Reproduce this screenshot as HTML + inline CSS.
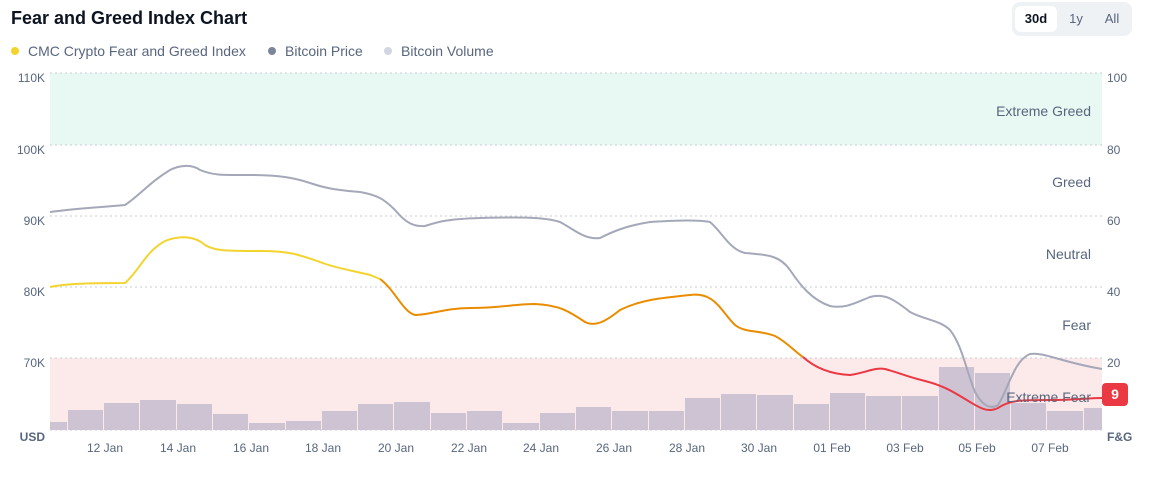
<!DOCTYPE html>
<html><head><meta charset="utf-8"><style>
body{margin:0;background:#fff;font-family:"Liberation Sans",sans-serif;}
.wrap{position:relative;width:1157px;height:477px;overflow:hidden}
.title{position:absolute;left:11px;top:8px;font-size:18px;font-weight:bold;color:#0d1421}
.leg{position:absolute;top:43px;font-size:14px;color:#58667e}
.dot{display:inline-block;width:8px;height:8px;border-radius:50%;margin-right:9px;vertical-align:1px}
.btns{position:absolute;left:1012px;top:2px;width:120px;height:34px;background:#eff2f5;border-radius:8px}
.btns span{position:absolute;top:4px;height:26px;line-height:26px;font-size:13px;color:#58667e;text-align:center}
</style></head><body><div class="wrap">
<div class="title">Fear and Greed Index Chart</div>
<div class="leg" style="left:11px"><span class="dot" style="background:#f3d42f"></span>CMC Crypto Fear and Greed Index</div>
<div class="leg" style="left:268px"><span class="dot" style="background:#7c869a"></span>Bitcoin Price</div>
<div class="leg" style="left:384px"><span class="dot" style="background:#d1d6e0"></span>Bitcoin Volume</div>
<div class="btns"><span style="left:3px;width:42px;background:#fff;border-radius:6px;color:#0d1421;font-weight:bold">30d</span><span style="left:53px;width:22px">1y</span><span style="left:86px;width:28px">All</span></div>
<svg width="1157" height="477" style="position:absolute;left:0;top:0" font-family="Liberation Sans,sans-serif">
<rect x="50" y="73" width="1052" height="72" fill="#e8f8f2"/>
<rect x="50" y="358" width="1052" height="72" fill="#fce9e9"/>
<g stroke="#c8ccd4" stroke-dasharray="2,3" stroke-width="1">
<line x1="50" y1="73" x2="1102" y2="73"/><line x1="50" y1="145" x2="1102" y2="145"/><line x1="50" y1="216" x2="1102" y2="216"/><line x1="50" y1="287" x2="1102" y2="287"/><line x1="50" y1="358" x2="1102" y2="358"/><line x1="50" y1="430" x2="1102" y2="430"/></g>
<g fill="#cdc3d3">
<rect x="50" y="422" width="17" height="8"/><rect x="68" y="410" width="35" height="20"/><rect x="104" y="403" width="35" height="27"/><rect x="140" y="400" width="36" height="30"/><rect x="177" y="404" width="35" height="26"/><rect x="213" y="414" width="35" height="16"/><rect x="249" y="423" width="36" height="7"/><rect x="286" y="421" width="35" height="9"/><rect x="322" y="411" width="35" height="19"/><rect x="358" y="404" width="35" height="26"/><rect x="394" y="402" width="36" height="28"/><rect x="431" y="413" width="35" height="17"/><rect x="467" y="411" width="35" height="19"/><rect x="503" y="423" width="36" height="7"/><rect x="540" y="413" width="35" height="17"/><rect x="576" y="407" width="35" height="23"/><rect x="612" y="411" width="36" height="19"/><rect x="649" y="411" width="35" height="19"/><rect x="685" y="398" width="35" height="32"/><rect x="721" y="394" width="35" height="36"/><rect x="757" y="395" width="36" height="35"/><rect x="794" y="404" width="35" height="26"/><rect x="830" y="393" width="35" height="37"/><rect x="866" y="396" width="35" height="34"/><rect x="902" y="396" width="36" height="34"/><rect x="939" y="367" width="35" height="63"/><rect x="975" y="373" width="35" height="57"/><rect x="1011" y="403" width="35" height="27"/><rect x="1047" y="411" width="36" height="19"/><rect x="1084" y="408" width="18" height="22"/></g>
<path d="M50,212 C70,209 90,208 125,205 C140,195 150,182 170,170 C180,165 192,164 200,170 C215,176 225,175 250,175 C280,175 295,178 310,183 C325,188 335,190 360,192 C378,195 385,200 395,210 C405,222 413,227 425,226 C440,221 450,219 480,218 C520,217 545,217 560,222 C575,230 585,240 600,238 C612,232 625,226 650,222 C680,220 700,220 710,222 C722,232 730,250 745,253 C770,255 780,256 790,270 C800,285 812,300 830,306 C845,309 855,303 870,297 C885,293 895,300 910,312 C925,320 940,320 950,330 C962,345 966,370 975,392 C982,405 990,410 998,405 C1008,390 1014,360 1030,354 C1045,352 1060,362 1102,369" fill="none" stroke="#a4a8b9" stroke-width="2"/>
<path d="M50,287 C70,283 100,283 125,283 C140,270 145,252 165,241 C180,235 195,236 205,245 C215,251 225,251 260,251 C290,251 300,255 320,262 C335,268 350,270 370,275 L380,279" fill="none" stroke="#f3d42f" stroke-width="2"/>
<path d="M380,279 C395,290 403,312 415,315 C430,315 445,308 470,308 C500,308 515,304 535,304 C560,305 570,312 585,322 C595,327 605,322 620,310 C640,300 660,298 690,295 C715,292 720,310 735,325 C745,333 760,330 775,336 C787,342 795,352 803,357" fill="none" stroke="#ea8c00" stroke-width="2"/>
<path d="M803,357 C815,368 830,374 850,375 C865,373 875,367 885,369 C900,373 905,376 925,381 C945,386 955,393 970,402 C980,408 988,413 998,408 C1010,400 1020,400 1050,400 C1075,400 1090,398 1102,398" fill="none" stroke="#ea3943" stroke-width="2"/>
<g font-size="12" fill="#58667e" text-anchor="end"><text x="45" y="82">110K</text><text x="45" y="154">100K</text><text x="45" y="225">90K</text><text x="45" y="296">80K</text><text x="45" y="367">70K</text><text x="45" y="441" font-weight="bold">USD</text></g>
<g font-size="12" fill="#58667e"><text x="1107" y="82">100</text><text x="1107" y="154">80</text><text x="1107" y="225">60</text><text x="1107" y="296">40</text><text x="1107" y="367">20</text><text x="1107" y="441" font-weight="bold">F&amp;G</text></g>
<g font-size="14" fill="#58667e" text-anchor="end"><text x="1091" y="116">Extreme Greed</text><text x="1091" y="187">Greed</text><text x="1091" y="259">Neutral</text><text x="1091" y="330">Fear</text><text x="1091" y="402">Extreme Fear</text></g>
<g font-size="12" fill="#58667e" text-anchor="middle"><text x="105" y="452">12 Jan</text><text x="178" y="452">14 Jan</text><text x="251" y="452">16 Jan</text><text x="323" y="452">18 Jan</text><text x="396" y="452">20 Jan</text><text x="469" y="452">22 Jan</text><text x="541" y="452">24 Jan</text><text x="614" y="452">26 Jan</text><text x="687" y="452">28 Jan</text><text x="759" y="452">30 Jan</text><text x="832" y="452">01 Feb</text><text x="905" y="452">03 Feb</text><text x="977" y="452">05 Feb</text><text x="1050" y="452">07 Feb</text></g>
<rect x="1102" y="383" width="26" height="23" rx="4" fill="#ea3943"/><text x="1115" y="399" font-size="14" font-weight="bold" fill="#fff" text-anchor="middle">9</text>
</svg></div></body></html>
